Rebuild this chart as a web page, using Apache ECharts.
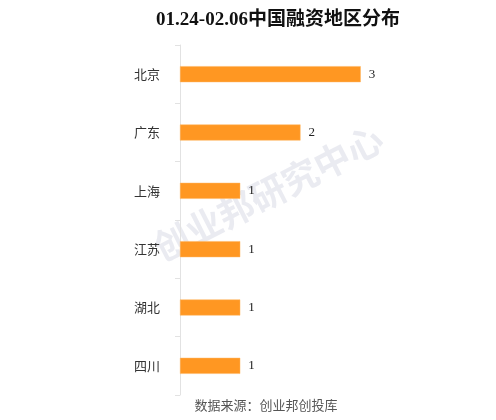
<!DOCTYPE html>
<html>
<head>
<meta charset="utf-8">
<script src="https://cdn.jsdelivr.net/npm/echarts@6/dist/echarts.min.js"></script>
<style>
  html, body { margin: 0; padding: 0; background: #fff; }
  #main { width: 496px; height: 420px; }
</style>
</head>
<body>
<div id="main"></div>
<script>
// 地区 & 融资数量
const regions = ['北京', '广东', '上海', '江苏', '湖北', '四川']
const counts = [3, 2, 1, 1, 1, 1]
const titleText = '01.24-02.06中国融资地区分布'
const sourceText = '数据来源：创业邦创投库'
const watermark = '创业邦研究中心'

let myChart = echarts.init(document.getElementById('main'))
let option = {
  backgroundColor: '#fff',
  animation: false,
  title: {
    text: titleText,
    left: 273,
    top: 6,
    textAlign: 'center',
    textStyle: {
      fontFamily: '"Liberation Serif", "Noto Sans CJK SC"',
      fontWeight: 'bold',
      fontSize: 19,
      color: '#111'
    }
  },
  graphic: [
    {
      // 水印
      type: 'text',
      x: 268,
      y: 193,
      rotation: 27 * Math.PI / 180,
      z: 0,
      style: {
        text: watermark,
        font: 'bold 36px "Noto Sans CJK SC"',
        fill: 'rgba(205, 208, 222, 0.42)',
        align: 'center',
        verticalAlign: 'middle'
      }
    },
    {
      type: 'text',
      x: 266,
      y: 405,
      style: {
        text: sourceText,
        font: '13px "Noto Sans CJK SC"',
        fill: '#555',
        align: 'center',
        verticalAlign: 'middle'
      }
    }
  ],
  grid: {
    left: 180,
    top: 45,
    bottom: 25,
    width: 241
  },
  xAxis: {
    type: 'value',
    min: 0,
    max: 4,
    show: false
  },
  yAxis: {
    type: 'category',
    inverse: true,
    data: regions,
    axisLine: { lineStyle: { color: '#e2e2e2' } },
    axisTick: { show: true, length: 5, lineStyle: { color: '#e2e2e2' } },
    axisLabel: {
      margin: 20,
      fontFamily: '"Noto Sans CJK SC"',
      fontSize: 13,
      color: '#333'
    }
  },
  series: [{
    type: 'bar',
    data: counts,
    barWidth: 16,
    itemStyle: {
      color: '#ff9722',
      borderColor: '#ffb45e',
      borderWidth: 0.5
    },
    label: {
      show: true,
      position: 'right',
      distance: 8,
      fontFamily: '"Liberation Serif"',
      fontSize: 13,
      color: '#222'
    },
    z: 3
  }]
}
myChart.setOption(option)
</script>
</body>
</html>
